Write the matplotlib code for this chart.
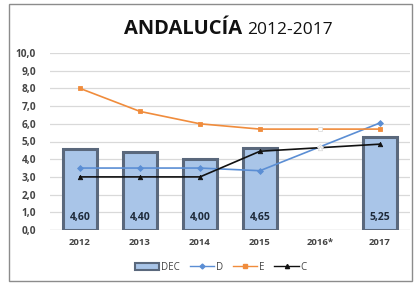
import matplotlib
matplotlib.use("Agg")
import matplotlib.pyplot as plt
from matplotlib.patches import Rectangle
from matplotlib.lines import Line2D
import numpy as np

plt.rcParams['font.family'] = ['Open Sans', 'DejaVu Sans']

years = ["2012", "2013", "2014", "2015", "2016*", "2017"]
dec = [4.60, 4.40, 4.00, 4.65, np.nan, 5.25]
dec_labels = ["4,60", "4,40", "4,00", "4,65", "", "5,25"]
d_vals = [3.5, 3.5, 3.5, 3.35, 4.7, 6.05]
e_vals = [8.0, 6.7, 6.0, 5.7, 5.7, 5.7]
c_vals = [3.0, 3.0, 3.0, 4.45, 4.65, 4.85]
hollow_idx = 4  # 2016* shown with hollow markers
yticks = [0, 1, 2, 3, 4, 5, 6, 7, 8, 9, 10]

W, H = 415, 284
fig = plt.figure(figsize=(W / 100, H / 100), dpi=100)
fig.patches.append(Rectangle((9 / W, 3 / H), 403 / W, 277 / H, transform=fig.transFigure,
                             fill=False, edgecolor="#8c8c8c", linewidth=1.0))

ax = fig.add_axes([50 / W, (H - 230) / H, 360 / W, 177 / H])
x = np.arange(len(years))

bar_fc = "#a9c5e8"
bar_ec = "#5a687c"
d_col = "#5b8ed4"
e_col = "#f08c3c"
c_col = "#111111"

ax.bar(x, dec, width=0.58, color=bar_fc, edgecolor=bar_ec, linewidth=2.2, zorder=2)
for xi, v, lab in zip(x, dec, dec_labels):
    if lab:
        ax.text(xi, 0.72, lab, ha="center", va="center", fontsize=7.5, fontweight="bold",
                color="#1e2a3a", zorder=5)

def series(vals, col, marker, ms):
    ax.plot(x, vals, color=col, linewidth=1.2, zorder=3)
    for i, (xi, v) in enumerate(zip(x, vals)):
        fc = "white" if i == hollow_idx else col
        ax.plot([xi], [v], marker=marker, markersize=ms, markerfacecolor=fc,
                markeredgecolor=col if i != hollow_idx else "#dddddd", markeredgewidth=0.6, zorder=4)

series(d_vals, d_col, "D", 3.0)
series(e_vals, e_col, "s", 3.5)
series(c_vals, c_col, "^", 3.2)

ax.set_xlim(-0.5, len(years) - 0.5)
ax.set_ylim(0, 10)
ax.set_yticks(yticks)
ax.set_yticklabels([f"{t:.1f}".replace(".", ",") for t in yticks], fontsize=7.3,
                   fontweight="bold", color="#444444")
ax.set_xticks(x)
ax.set_xticklabels(years, fontsize=6.8, fontweight="bold", color="#444444")
ax.tick_params(axis="y", length=0, pad=10)
ax.tick_params(axis="x", length=0, pad=6)
ax.grid(axis="y", color="#d9d9d9", linewidth=0.9, zorder=0)
ax.set_axisbelow(True)
for s in ax.spines.values():
    s.set_visible(False)
ax.axhline(0, color="#d0d0d0", linewidth=0.9, zorder=1)

fig.text(242 / W, (H - 29) / H, "ANDALUCÍA", ha="right", va="center", fontsize=14.5,
         fontweight="bold", color="#111111")
fig.text(247 / W, (H - 29.5) / H, "2012-2017", ha="left", va="center", fontsize=12.5,
         color="#111111")

handles = [
    Rectangle((0, 0), 1, 1, facecolor=bar_fc, edgecolor=bar_ec, linewidth=1.5),
    Line2D([], [], color=d_col, marker="D", markersize=2.5, linewidth=1.0),
    Line2D([], [], color=e_col, marker="s", markersize=3, linewidth=1.0),
    Line2D([], [], color=c_col, marker="^", markersize=3, linewidth=1.0),
]
fig.legend(handles, ["DEC", "D", "E", "C"], loc="center", bbox_to_anchor=(221 / W, (H - 267) / H),
           ncol=4, frameon=False, fontsize=7, handlelength=2.5, handletextpad=0.2,
           columnspacing=1.0, labelcolor="#444444")

fig.savefig("out.png", dpi=100)
